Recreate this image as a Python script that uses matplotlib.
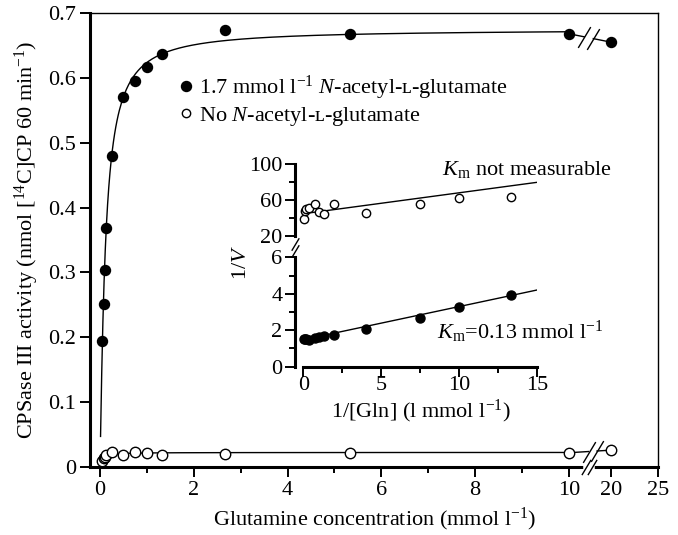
import numpy as np
import matplotlib
matplotlib.use('Agg')
import matplotlib.pyplot as plt
from matplotlib.lines import Line2D

plt.rcParams['font.family'] = ['Liberation Serif', 'DejaVu Serif']
plt.rcParams['mathtext.fontset'] = 'custom'
plt.rcParams['mathtext.rm'] = 'Liberation Serif'
plt.rcParams['mathtext.it'] = 'Liberation Serif:italic'
plt.rcParams['font.size'] = 16

# main panel: glutamine concentration (mmol l-1) vs activity
gln = [0.05, 0.075, 0.1, 0.133, 0.25, 0.5, 0.75, 1.0, 1.33, 2.67, 5.33, 10, 20]
act_nag = [0.194, 0.252, 0.303, 0.369, 0.479, 0.571, 0.595, 0.616, 0.637, 0.674, 0.667, 0.668, 0.655]
act_none = [0.009, 0.014, 0.016, 0.018, 0.023, 0.018, 0.023, 0.022, 0.018, 0.020, 0.022, 0.022, 0.026]

# fitted curves (Michaelis-Menten / Hill type)
vmax_nag, k_nag, n_nag = 0.675, 0.114, 1.15
vmax_none, k_none = 0.0225, 0.04

# inset: double reciprocal plot
inv_gln = [0.05, 0.1, 0.19, 0.375, 0.75, 1.0, 1.33, 2.0, 4.0, 7.5, 10.0, 13.3]
inv_v_nag = [1.53, 1.50, 1.50, 1.48, 1.57, 1.62, 1.68, 1.73, 2.08, 2.68, 3.28, 3.95]
inv_v_none = [38.6, 47.6, 49.8, 51.3, 55.0, 46.1, 44.2, 55.0, 45.7, 55.0, 61.7, 62.8]
lb_nag = (1.48, 0.182)     # intercept, slope
lb_none = (44.5, 2.34)

xticks = [0, 2, 4, 6, 8, 10, 20, 25]
FS = 16


def xpos(c):
    # broken x axis: 0-10 linear, then 20 and 25 squeezed in
    c = np.asarray(c, dtype=float)
    return np.where(c <= 10, c, 10.9 + (c - 20) / 5.0)


fig = plt.figure(figsize=(6.78, 5.35), dpi=100)
ax = fig.add_axes([90/678, 68/535, 568/678, 454/535])

# curves
s = np.linspace(0.012, 10, 400)
ax.plot(s, vmax_nag * s**n_nag / (k_nag**n_nag + s**n_nag), color='k', lw=1)
s2 = np.linspace(0.05, 10, 200)
ax.plot(s2, vmax_none * s2 / (k_none + s2), color='k', lw=1)

# broken segments between 10 and 20
slash = [(-0.6, -1), (0.6, 1)]
for ys, gap in [(act_nag, (10.33, 10.52)), (act_none, (10.42, 10.6))]:
    x0, x1 = float(xpos(10)), float(xpos(20))
    y0, y1 = ys[-2], ys[-1]
    yy = lambda x: y0 + (y1 - y0) * (x - x0) / (x1 - x0)
    ax.plot([x0, gap[0]], [y0, yy(gap[0])], color='k', lw=1)
    ax.plot([gap[1], x1], [yy(gap[1]), y1], color='k', lw=1)
    ax.plot(gap, [yy(g) for g in gap], ls='none', marker=slash, ms=15, mew=1, color='k')

ax.plot(xpos(gln), act_nag, 'o', ms=7.2, color='k', zorder=5)
ax.plot(xpos(gln), act_none, 'o', ms=7.5, mfc='white', mec='k', mew=1, zorder=5)

ax.set_xlim(-0.213, 11.9)
ax.set_ylim(0, 0.7)
ax.set_xticks(xpos(xticks))
ax.set_xticklabels([str(t) for t in xticks])
ax.set_xticks([1, 3, 5, 7, 9], minor=True)
ax.set_yticks(np.arange(0, 0.71, 0.1))
ax.set_yticklabels(['0'] + ['%.1f' % v for v in np.arange(0.1, 0.71, 0.1)])
ax.tick_params(which='major', direction='out', length=7, width=1.4, labelsize=FS, pad=3)
ax.tick_params(which='minor', direction='out', length=4, width=1.4)
for sp in ['left', 'bottom']:
    ax.spines[sp].set_linewidth(2.2)
for sp in ['top', 'right']:
    ax.spines[sp].set_linewidth(1)

# x-axis break
ax.plot([10.36, 10.5], [0, 0], color='white', lw=4, clip_on=False, zorder=3)
ax.plot([10.36, 10.5], [0, 0], ls='none', marker=slash, ms=11, mew=1, color='k',
        clip_on=False, zorder=4)

ax.set_xlabel('Glutamine concentration (mmol l$^{-1}$)', fontsize=FS, labelpad=4)
ax.set_ylabel('CPSase III activity (nmol [$^{14}$C]CP 60 min$^{-1}$)', fontsize=FS, labelpad=5)

handles = [Line2D([], [], ls='none', marker='o', ms=7.2, color='k'),
           Line2D([], [], ls='none', marker='o', ms=6, mfc='white', mec='k', mew=1)]
labels = ['1.7 mmol l$^{-1}$ $\\it{N}$-acetyl-\u029f-glutamate',
          'No $\\it{N}$-acetyl-\u029f-glutamate']
ax.legend(handles, labels, loc='upper left', bbox_to_anchor=(179/678, 1 - 74/535),
          bbox_transform=fig.transFigure, frameon=False, handlelength=0.6,
          handletextpad=0.3, labelspacing=0.12, borderpad=0, borderaxespad=0, fontsize=FS)

# inset axes (broken y axis)
ix0, iw = 295/678, 242.3/678
axt = fig.add_axes([ix0, (535 - 235.7)/535, iw, (235.7 - 164)/535])
axb = fig.add_axes([ix0, (535 - 366.7)/535, iw, (366.7 - 257.3)/535])
for a in (axt, axb):
    a.patch.set_alpha(0)
    a.set_xlim(-0.53, 15)
    a.spines['top'].set_visible(False)
    a.spines['right'].set_visible(False)
    a.spines['left'].set_linewidth(2.2)
    a.tick_params(which='major', direction='out', length=7, width=1.4, labelsize=FS, pad=2)
    a.tick_params(which='minor', direction='out', length=4, width=1.4)

axt.spines['bottom'].set_visible(False)
axt.set_xticks([])
axt.set_ylim(20, 100)
axt.set_yticks([20, 60, 100])
axt.set_yticks([40, 80], minor=True)
xl = np.array([0.2, 15])
axt.plot(xl, lb_none[0] + lb_none[1] * xl, color='k', lw=1)
axt.plot(inv_gln, inv_v_none, 'o', ms=6, mfc='white', mec='k', mew=1, clip_on=False)

axb.set_ylim(0, 6)
axb.set_yticks([0, 2, 4, 6])
axb.set_yticks([1, 3, 5], minor=True)
axb.set_xticks([0, 5, 10, 15])
axb.set_xticks([2.5, 7.5, 12.5], minor=True)
axb.spines['bottom'].set_linewidth(2.2)
axb.spines['bottom'].set_bounds(0, 15)
axb.tick_params(axis='x', which='major', pad=0)
xl = np.array([0, 15])
axb.plot(xl, lb_nag[0] + lb_nag[1] * xl, color='k', lw=1)
axb.plot(inv_gln, inv_v_nag, 'o', ms=6.5, color='k', clip_on=False)

# y-axis break marks on inset
axb.plot([-0.53, -0.53], [6.35, 6.75], ls='none', marker=slash, ms=9, mew=1, color='k',
         clip_on=False)

fig.text(421/678, 1 - 411/535, '1/[Gln] (l mmol l$^{-1}$)', ha='center', va='center', fontsize=FS)
fig.text(242/678, 1 - 262/535, '1/$\\it{V}$', ha='center', va='center', rotation=90, fontsize=FS)
fig.text(442/678, 1 - 170/535, '$\\it{K}_{\\rm m}$ not measurable', ha='left', va='center', fontsize=FS)
fig.text(437/678, 1 - 332/535, '$\\it{K}_{\\rm m}$=0.13 mmol l$^{-1}$', ha='left', va='center', fontsize=FS)

fig.savefig('out.png', dpi=100)
